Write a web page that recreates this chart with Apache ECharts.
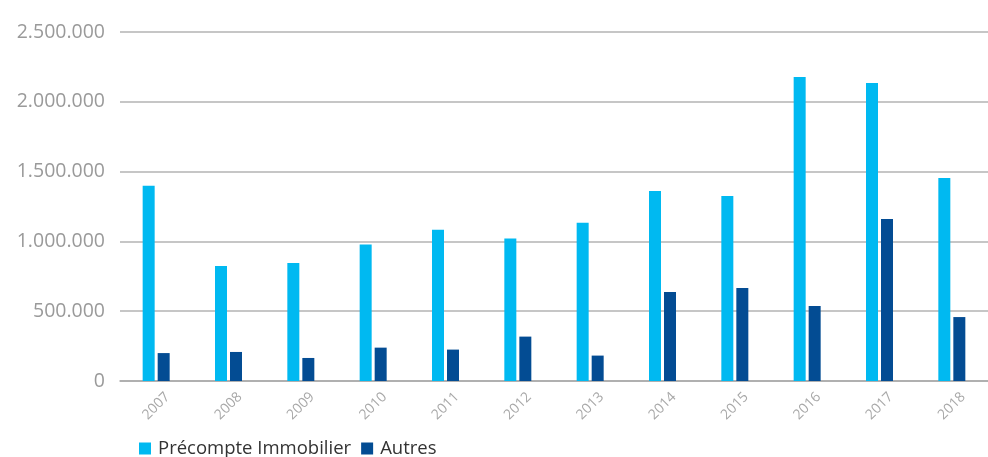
<!DOCTYPE html>
<html>
<head>
<meta charset="utf-8">
<script src="https://cdn.jsdelivr.net/npm/echarts@6/dist/echarts.min.js"></script>
<style>
  html, body { margin: 0; padding: 0; background: #fff; }
  #chart { width: 988px; height: 457px; }
</style>
</head>
<body>
<div id="chart"></div>
<script>
var years = ['2007', '2008', '2009', '2010', '2011', '2012', '2013', '2014', '2015', '2016', '2017', '2018'];
var precompte = [1398000, 824000, 845000, 978000, 1084000, 1020000, 1134000, 1361000, 1325000, 2177000, 2135000, 1454000];
var autres = [200000, 208000, 165000, 239000, 225000, 318000, 182000, 637000, 666000, 537000, 1160000, 458000];

function fmt(v) {
  return String(v).replace(/\B(?=(\d{3})+(?!\d))/g, '.');
}

var chart = echarts.init(document.getElementById('chart'));
chart.setOption({
  animation: false,
  textStyle: { fontFamily: 'Open Sans' },
  grid: { left: 120, right: 0, top: 32, bottom: 76, containLabel: false },
  legend: {
    left: 134,
    top: 434,
    itemWidth: 12,
    itemHeight: 12,
    itemGap: 10,
    icon: 'rect',
    textStyle: { fontSize: 18.5, color: '#333', fontFamily: 'Open Sans', padding: [0, 0, 0, 2] },
    data: ['Précompte Immobilier', 'Autres']
  },
  xAxis: {
    type: 'category',
    data: years,
    axisLine: { lineStyle: { color: '#a9a9a9', width: 1.5 } },
    axisTick: { inside: true, length: 7, lineStyle: { color: '#a9a9a9', width: 1.5 } },
    axisLabel: {
      rotate: 45, color: '#a8a8a8', fontSize: 14, margin: 25,
      align: 'center', verticalAlign: 'middle'
    }
  },
  yAxis: {
    type: 'value',
    min: 0,
    max: 2500000,
    interval: 500000,
    axisLine: { show: false },
    axisTick: { show: false },
    axisLabel: { color: '#9a9a9a', fontSize: 19.5, margin: 15, formatter: fmt },
    splitLine: { lineStyle: { color: '#b3b3b3', width: 1.5 } }
  },
  series: [
    {
      name: 'Précompte Immobilier',
      type: 'bar',
      data: precompte,
      barWidth: 12,
      barGap: '25%',
      itemStyle: { color: '#00b9f1' }
    },
    {
      name: 'Autres',
      type: 'bar',
      data: autres,
      barWidth: 12,
      itemStyle: { color: '#034c93' }
    }
  ]
});
</script>
</body>
</html>
